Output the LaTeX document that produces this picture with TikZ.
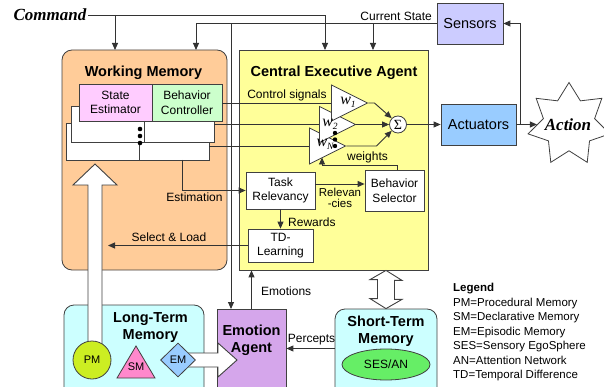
\documentclass[tikz,border=0pt]{standalone}
\usepackage{fontspec}
\setmainfont{Liberation Sans}
\newfontfamily\timesfont{Liberation Serif}
\usetikzlibrary{arrows.meta,shapes.geometric,calc}

\definecolor{wmfill}{HTML}{FFCC99}
\definecolor{ceafill}{HTML}{FFFF99}
\definecolor{sefill}{HTML}{FFCCFF}
\definecolor{bcfill}{HTML}{CCFFCC}
\definecolor{sensfill}{HTML}{CCCCFF}
\definecolor{actfill}{HTML}{99CCFF}
\definecolor{emofill}{HTML}{D5A6EB}
\definecolor{memfill}{HTML}{CCFFFF}
\definecolor{sesfill}{HTML}{66EE66}
\definecolor{pmfill}{HTML}{CCEE22}
\definecolor{smfill}{HTML}{FF88CC}
\definecolor{emfill}{HTML}{99CCFF}
\definecolor{edge}{HTML}{404040}
\definecolor{wirecol}{HTML}{333333}

\newcommand\wsym[1]{{\timesfont\itshape\fontsize{16}{16}\selectfont w\raisebox{-3pt}{\fontsize{9.5}{9.5}\selectfont #1}}}

\tikzset{
  blk/.style={draw=edge, line width=0.8pt, inner sep=0pt, align=center,
    font=\fontsize{12}{14.5}\selectfont},
  roundblk/.style={blk, rounded corners=10pt},
  ttl/.style={font=\bfseries\fontsize{14.5}{17}\selectfont, align=center, inner sep=0pt},
  lbl/.style={font=\fontsize{12}{14}\selectfont, inner sep=0pt},
  wire/.style={draw=wirecol, line width=0.9pt},
  arr/.style={wire, -{Triangle[length=7pt,width=6pt]}},
  divider/.style={draw=edge, line width=0.8pt},
  wtri/.style={draw=edge, fill=white, line width=0.8pt, isosceles triangle,
    isosceles triangle stretches, minimum width=36pt, minimum height=36pt,
    inner sep=0pt, anchor=west},
  wlbl/.style={inner sep=0pt},
  hollow/.style={draw=edge, fill=white, line width=0.9pt, line join=miter},
  bigserif/.style={font=\timesfont\bfseries\itshape\fontsize{17}{20}\selectfont},
}

\begin{document}
\begin{tikzpicture}[x=1pt,y=-1pt]
\useasboundingbox (0,0) rectangle (604,387);
\clip (0,0) rectangle (604,387);

% containers
\node[roundblk, fill=wmfill, minimum width=165pt, minimum height=220pt] (wm) at (144.5,160) {};
\node[blk, fill=ceafill, minimum width=189pt, minimum height=220pt] (cea) at (333.5,160) {};
\node[roundblk, fill=memfill, minimum width=140pt, minimum height=95pt] (ltm) at (134,352.5) {};
\node[roundblk, fill=memfill, minimum width=102pt, minimum height=91pt] (stm) at (386,354.5) {};
\node[blk, fill=emofill, minimum width=69pt, minimum height=91pt] (ea) at (251.5,354.5) {};

% sensors, actuators, action
\node[blk, fill=sensfill, minimum width=66pt, minimum height=41pt, font=\fontsize{14.5}{17}\selectfont] (sensors) at (470,23.5) {Sensors};
\node[blk, fill=actfill, minimum width=75pt, minimum height=41pt, font=\fontsize{14.5}{17}\selectfont] (act) at (478.5,124.5) {Actuators};
\node[draw=edge, fill=white, line width=0.8pt, star, star points=7, star point ratio=1.6,
  minimum size=84pt, inner sep=0pt] (action) at (569,124.5) {};
\node[bigserif, inner sep=0pt] (actionTxt) at (568,125) {Action};

% working memory stack
\node[blk, fill=white, minimum width=143pt, minimum height=37pt] (layer3) at (137.5,141.5) {};
\node[blk, fill=white, minimum width=143pt, minimum height=36pt] (layer2) at (142.5,124) {};
\node[blk, fill=sefill, minimum width=73pt, minimum height=37pt] (se) at (115.5,102.5) {State\\Estimator};
\node[blk, fill=bcfill, minimum width=70pt, minimum height=37pt] (bc) at (187,102.5) {Behavior\\Controller};
\draw[divider] (144,121) -- (144,142);
\draw[divider] (139,142) -- (139,160);
\foreach \yy in {129,136,143} \fill[black] (140,\yy) circle (2.3pt);

% central executive internals
\node[blk, fill=white, minimum width=69pt, minimum height=37pt] (tr) at (280.5,190.5) {Task\\Relevancy};
\node[blk, fill=white, minimum width=59pt, minimum height=41pt] (bs) at (394.5,190.5) {Behavior\\Selector};
\node[blk, fill=white, minimum width=65pt, minimum height=33pt] (td) at (280.5,245.5) {TD-\\Learning};

% entry points
\coordinate (cmdWM) at (115,50);
\coordinate (cmdCEA) at (325,50);
\coordinate (csWM) at (196,50);
\coordinate (csCEA) at (373,50);
\coordinate (csEA) at (231,309);
\coordinate (estOut) at (182,160);
\coordinate (slEnd) at (108,245.5);
\coordinate (wgtIn) at (322,157.5);
\coordinate (fb) at (520,124.5);

% command and current state
\node[bigserif, inner sep=1.5pt] (cmd) at (50,15) {Command};
\draw[arr] (cmd.east) -| (cmdCEA);
\draw[arr] (cmd.east -| cmdWM) -- (cmdWM);
\draw[arr] (sensors.west) -| (csWM);
\draw[arr] (sensors.west -| csCEA) -- (csCEA);
\draw[arr] (sensors.west -| csEA) -- (csEA);
\node[lbl, anchor=east] (csLbl) at (432,16) {Current State};

% weighted channels
\node[wtri] (wN) at (309,146) {};
\node[wtri] (w2) at (319,124.5) {};
\node[wtri] (w1) at (331,103) {};
\draw[wire] (bc.east |- w1.west) -- (w1.west);
\draw[wire] (layer2.east |- w2.west) -- (w2.west);
\draw[wire] (layer3.east |- wN.west) -- (wN.west);
\node[wlbl] (w1l) at (348,102) {\wsym{1}};
\node[wlbl] (w2l) at (330,124) {\wsym{2}};
\node[wlbl] (wNl) at (325,144.5) {\wsym{N}};
\foreach \yy in {133,139.5,146} \fill[black] (335,\yy) circle (2.2pt);
\node[lbl] (ctrlLbl) at (287,95) {Control signals};

\node[draw=edge, fill=white, circle, minimum size=17pt, inner sep=0pt, line width=0.8pt,
  font=\timesfont\fontsize{14}{14}\selectfont] (sum) at (398,124.5) {Σ};
\draw[arr] (w1.east) -- ++(6,0) -- (sum.135);
\draw[arr] (w2.east) -- (sum.west);
\draw[arr] (wN.east) -- ++(30,0) -- (sum.225);
\draw[arr] (sum.east) -- (act.west);
\draw[arr] (act.east) -- (action.west);
\draw[arr] (fb) |- (sensors.east);

% internal flow
\draw[arr] (estOut) |- (tr.west);
\node[lbl] (estLbl) at (194.5,197.5) {Estimation};
\draw[arr] ([yshift=6.5pt]tr.east) -- ([yshift=6.5pt]bs.west);
\node[lbl, align=center, font=\fontsize{11.5}{11}\selectfont] (relLbl) at (340,198) {Relevan\\-cies};
\draw[arr] (tr.south) -- (td.north);
\node[lbl, anchor=west] (rewLbl) at (288,222.5) {Rewards};
\draw[arr] (td.west) -- (slEnd);
\node[lbl] (slLbl) at (169,237.5) {Select \& Load};
\draw[arr] ([xshift=2.5pt]bs.north) -- ++(0,-4) -| (wgtIn);
\node[lbl] (wgtLbl) at (367.5,157.5) {weights};

% emotion and short-term links
\draw[arr] (ea.north) -- (ea.north |- cea.south);
\node[lbl, anchor=west] (emoLbl) at (261,291.5) {Emotions};
\draw[arr] ([yshift=6pt]stm.west) -- ([yshift=6pt]ea.east);
\node[lbl] (pcLbl) at (311.5,339.5) {Percepts};
\coordinate (dA) at (cea.south -| stm.north);
\coordinate (dB) at (stm.north);
\draw[hollow] (dA) -- ++(16,10) -- ++(-7.5,0) -- ++(0,19) -- ++(7.5,0) -- (dB)
  -- ++(-16,-10) -- ++(7.5,0) -- ++(0,-19) -- ++(-7.5,0) -- cycle;

% long-term memory contents
\coordinate (pmTip) at (95,164);
\coordinate (emTip) at (237,360);
\coordinate (pmC) at (92,360);
\coordinate (emC) at (178,360);
\draw[hollow] (pmC) ++(-4,-10) -- ++(0,-165) -- ++(-15,0) -- (pmTip) -- ++(22,21)
  -- ++(-15,0) -- ++(0,165) -- cycle;
\draw[hollow] (emC) ++(7,-7) -- ++(33,0) -- ++(0,-10) -- (emTip) -- ++(-19,17)
  -- ++(0,-10) -- ++(-33,0) -- cycle;
\node[draw=edge, fill=pmfill, circle, minimum size=38pt, inner sep=0pt, line width=0.8pt,
  font=\fontsize{11}{11}\selectfont] (pm) at (pmC) {PM};
\draw[draw=edge, fill=smfill, line width=0.8pt, line join=miter] (117,378) -- (155,378) -- (136,346) -- cycle;
\node[inner sep=0pt, font=\fontsize{11}{11}\selectfont] (sm) at (136,367) {SM};
\node[draw=edge, fill=emfill, diamond, minimum width=35pt, minimum height=34pt, inner sep=0pt,
  line width=0.8pt, font=\fontsize{11}{11}\selectfont] (em) at (emC) {EM};
\node[draw=edge, fill=sesfill, ellipse, minimum width=88pt, minimum height=31pt, inner sep=0pt,
  line width=0.8pt, font=\fontsize{12}{12}\selectfont] (ses) at (386,364.5) {SES/AN};

% titles
\node[ttl] (wmT) at (143.5,73) {Working Memory};
\node[ttl] (ceaT) at (334,73) {Central Executive Agent};
\node[ttl] (ltmT) at (150.5,328) {Long-Term\\Memory};
\node[ttl] (stmT) at (386,331.5) {Short-Term\\Memory};
\node[ttl] (eaT) at (251.5,340) {Emotion\\Agent};

% legend
\node[anchor=north west, align=left, inner sep=0pt, font=\fontsize{11.5}{14.5}\selectfont] (legend) at (453,283)
  {\textbf{Legend}\\PM=Procedural Memory\\SM=Declarative Memory\\EM=Episodic Memory\\SES=Sensory EgoSphere\\AN=Attention Network\\TD=Temporal Difference};
\end{tikzpicture}
\end{document}
